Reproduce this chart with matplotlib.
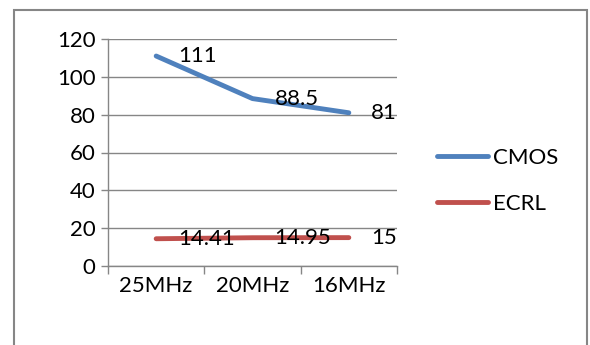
import matplotlib
matplotlib.use("Agg")
import matplotlib.pyplot as plt
from matplotlib.patches import Rectangle

# Frequencies and power figures for both logic styles
categories = ["25MHz", "20MHz", "16MHz"]
cmos = [111, 88.5, 81]
ecrl = [14.41, 14.95, 15]
cmos_labels = ["111", "88.5", "81"]
ecrl_labels = ["14.41", "14.95", "15"]

plt.rcParams["font.family"] = ["Lato", "DejaVu Sans"]
FS = 16
GRID = "#868686"

fig = plt.figure(figsize=(5.9, 3.45), dpi=100)
ax = fig.add_axes([108 / 590, 79 / 345, 289 / 590, 227 / 345])

x = list(range(len(categories)))
ax.plot(x, cmos, color="#4F81BD", lw=3.5, solid_capstyle="round", label="CMOS", zorder=3)
ax.plot(x, ecrl, color="#C0504D", lw=3.5, solid_capstyle="round", label="ECRL", zorder=3)

for xi, v, t in zip(x, cmos, cmos_labels):
    ax.annotate(t, (xi, v), xytext=(22, 0), textcoords="offset pixels",
                ha="left", va="center", fontsize=FS, color="black", zorder=4)
for xi, v, t in zip(x, ecrl, ecrl_labels):
    ax.annotate(t, (xi, v), xytext=(22, 0), textcoords="offset pixels",
                ha="left", va="center", fontsize=FS, color="black", zorder=4)

ax.set_xlim(-0.5, 2.5)
ax.set_ylim(0, 120)
ax.set_yticks(range(0, 121, 20))
ax.tick_params(axis="y", labelsize=FS, length=5, width=1, color=GRID, pad=4)
ax.set_xticks(x)
ax.set_xticklabels(categories)
ax.set_xticks([-0.5, 0.5, 1.5, 2.5], minor=True)
ax.tick_params(axis="x", which="major", length=0, labelsize=FS, pad=7)
ax.tick_params(axis="x", which="minor", length=6, width=1, color=GRID)

ax.grid(axis="y", color=GRID, lw=1)
ax.set_axisbelow(True)
for side in ["top", "right"]:
    ax.spines[side].set_visible(False)
for side in ["left", "bottom"]:
    ax.spines[side].set_color(GRID)
    ax.spines[side].set_linewidth(1)

fig.legend(loc="center left", bbox_to_anchor=(437 / 590, 1 - 181 / 345),
           frameon=False, fontsize=FS, handlelength=2.3, handletextpad=0.2,
           labelspacing=1.15, borderpad=0, borderaxespad=0)

# outer chart frame
fig.add_artist(Rectangle((14 / 590, -0.1), (587 - 14) / 590, 1.1 - 10 / 345,
                         transform=fig.transFigure, fill=False,
                         edgecolor=GRID, lw=1.5, clip_on=False))

fig.savefig("out.png", dpi=100)
